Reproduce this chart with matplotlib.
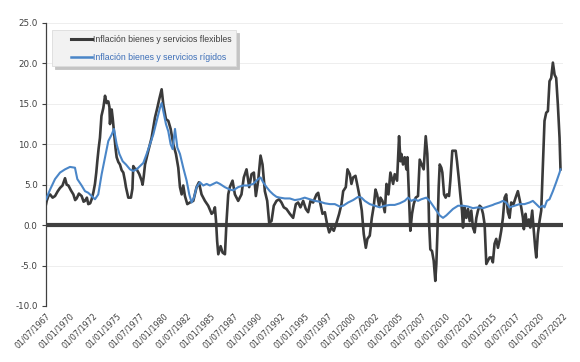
import numpy as np
import pandas as pd
import matplotlib
matplotlib.use("Agg")
import matplotlib.pyplot as plt
from matplotlib.legend_handler import HandlerLine2D

# Series (decimal year, % annual change)
flex_t = [
    1967.50, 1967.57, 1967.75, 1967.93, 1968.20, 1968.46, 1968.75, 1968.99, 1969.25, 1969.52,
    1969.70, 1969.88, 1970.15, 1970.41, 1970.60, 1970.76, 1971.00, 1971.29, 1971.50, 1971.65,
    1971.85, 1972.00, 1972.20, 1972.36, 1972.55, 1972.71, 1972.85, 1972.96, 1973.10, 1973.24,
    1973.40, 1973.60, 1973.78, 1973.95, 1974.13, 1974.25, 1974.31, 1974.40, 1974.49, 1974.60,
    1974.73, 1974.90, 1975.02, 1975.20, 1975.37, 1975.55, 1975.73, 1975.90, 1976.01, 1976.26,
    1976.54, 1976.70, 1976.79, 1976.95, 1977.15, 1977.43, 1977.68, 1977.78, 1977.90, 1978.04,
    1978.39, 1978.74, 1979.10, 1979.35, 1979.56, 1979.81, 1979.99, 1980.27, 1980.52, 1980.77,
    1981.05, 1981.33, 1981.58, 1981.76, 1981.94, 1982.11, 1982.29, 1982.54, 1982.82, 1983.18,
    1983.53, 1983.78, 1984.06, 1984.42, 1984.77, 1985.13, 1985.31, 1985.48, 1985.60, 1985.72,
    1985.84, 1986.09, 1986.30, 1986.55, 1986.72, 1986.90, 1987.07, 1987.36, 1987.61, 1987.96,
    1988.31, 1988.56, 1988.85, 1989.13, 1989.38, 1989.63, 1989.84, 1990.09, 1990.34, 1990.55,
    1990.80, 1991.05, 1991.26, 1991.51, 1991.75, 1992.04, 1992.32, 1992.57, 1992.82, 1993.10,
    1993.46, 1993.81, 1994.10, 1994.34, 1994.59, 1994.88, 1995.16, 1995.41, 1995.66, 1995.94,
    1996.30, 1996.48, 1996.65, 1996.94, 1997.19, 1997.43, 1997.65, 1997.89, 1998.14, 1998.43,
    1998.71, 1998.96, 1999.14, 1999.42, 1999.60, 1999.85, 2000.02, 2000.20, 2000.45, 2000.66,
    2000.91, 2001.12, 2001.33, 2001.55, 2001.72, 2001.97, 2002.19, 2002.40, 2002.58, 2002.75,
    2002.97, 2003.11, 2003.32, 2003.57, 2003.75, 2003.96, 2004.17, 2004.46, 2004.63, 2004.88,
    2005.09, 2005.24, 2005.34, 2005.51, 2005.69, 2005.87, 2005.98, 2006.15, 2006.29, 2006.47,
    2006.65, 2006.86, 2007.11, 2007.29, 2007.50, 2007.71, 2007.93, 2008.10, 2008.17, 2008.28,
    2008.42, 2008.60, 2008.78, 2008.95, 2009.06, 2009.17, 2009.31, 2009.42, 2009.59, 2009.70,
    2009.88, 2010.05, 2010.20, 2010.41, 2010.55, 2010.76, 2010.94, 2011.12, 2011.26, 2011.44,
    2011.61, 2011.79, 2011.90, 2012.07, 2012.25, 2012.43, 2012.61, 2012.78, 2012.96, 2013.14,
    2013.32, 2013.49, 2013.67, 2013.85, 2014.03, 2014.20, 2014.38, 2014.56, 2014.73, 2014.91,
    2015.08, 2015.26, 2015.44, 2015.62, 2015.79, 2015.97, 2016.15, 2016.33, 2016.50, 2016.68,
    2016.86, 2017.03, 2017.28, 2017.50, 2017.74, 2017.92, 2018.10, 2018.28, 2018.38, 2018.56,
    2018.70, 2018.91, 2019.06, 2019.27, 2019.41, 2019.59, 2019.70, 2019.87, 2020.05, 2020.23,
    2020.40, 2020.58, 2020.76, 2020.94, 2021.11, 2021.29, 2021.47, 2021.65, 2021.82, 2022.00,
    2022.18, 2022.28,
]
flex_v = [
    2.6, 3.0, 3.6, 3.8, 3.4, 3.6, 4.2, 4.6, 4.9, 5.8,
    5.0, 4.9, 4.3, 3.8, 3.1, 3.3, 3.9, 3.6, 2.9, 3.0,
    3.4, 2.6, 2.7, 3.2, 4.1, 5.1, 6.5, 7.9, 9.5, 10.8,
    13.5, 14.5, 16.0, 15.1, 15.3, 14.6, 12.5, 14.0, 14.3, 13.2,
    11.6, 9.5, 8.4, 7.8, 7.5, 6.8, 6.5, 5.5, 4.7, 3.4,
    3.4, 4.5, 7.3, 7.0, 6.9, 6.3, 5.5, 5.0, 6.0, 7.5,
    9.2, 10.8, 13.3, 14.5, 15.6, 16.8, 14.9, 13.1, 12.9, 11.9,
    10.0, 8.8, 7.1, 4.7, 3.8, 4.9, 3.6, 2.6, 2.8, 3.0,
    4.7, 5.3, 3.8, 3.0, 2.4, 1.4, 1.6, 2.2, 0.5, -2.0,
    -3.6, -2.6, -3.4, -3.6, 0.5, 3.8, 4.7, 5.5, 3.8, 3.0,
    3.8, 5.9, 6.9, 4.7, 6.3, 6.5, 3.6, 5.5, 8.6, 7.5,
    4.2, 3.0, 0.3, 0.5, 2.4, 3.0, 3.2, 2.8, 2.2, 2.0,
    1.4, 0.9, 2.6, 2.8, 2.2, 3.0, 2.0, 1.6, 3.0, 2.8,
    3.8, 4.0, 3.0, 1.4, 1.6, 0.1, -0.9, -0.3, -0.7, 0.3,
    1.4, 2.6, 4.2, 4.7, 6.9, 6.3, 5.1, 5.9, 6.1, 4.9,
    3.4, 1.8, -1.1, -2.8, -1.7, -1.3, 0.9, 2.4, 4.4, 3.8,
    2.4, 3.4, 3.0, 1.6, 5.1, 3.8, 6.5, 5.1, 6.3, 5.5,
    11.0, 7.9, 8.8, 7.5, 8.4, 6.9, 8.4, 3.4, -0.7, 1.4,
    2.6, 3.4, 3.6, 8.1, 7.5, 6.9, 11.0, 8.8, 6.5, 0.5,
    -3.0, -3.2, -4.4, -6.9, -4.8, -1.1, 4.7, 7.5, 7.1, 6.5,
    3.8, 3.4, 3.8, 3.6, 5.5, 9.2, 9.2, 9.2, 7.9, 5.9,
    3.8, 1.8, -0.3, 2.2, 0.9, 2.0, 0.5, 1.8, -0.3, -0.9,
    0.9, 1.8, 2.4, 2.2, 1.4, 0.1, -4.8, -4.4, -4.0, -4.0,
    -4.6, -2.3, -1.7, -2.8, -1.9, -0.7, 0.9, 3.4, 3.8, 1.6,
    0.9, 2.8, 2.6, 3.4, 4.2, 3.2, 2.2, 0.9, -0.5, 1.4,
    0.1, 0.7, -0.3, 1.8, -0.3, -2.8, -4.0, -1.1, 0.5, 1.8,
    7.1, 12.9, 13.9, 14.1, 17.8, 18.2, 20.1, 18.6, 18.2, 14.9,
    10.8, 6.9,
]

rig_t = [
    1967.50, 1967.57, 1967.93, 1968.46, 1968.99, 1969.52, 1970.05, 1970.58, 1970.83, 1971.29,
    1971.65, 1972.00, 1972.36, 1972.71, 1973.06, 1973.42, 1973.78, 1974.13, 1974.49, 1974.73,
    1975.02, 1975.31, 1975.66, 1976.01, 1976.44, 1976.79, 1977.15, 1977.50, 1977.86, 1978.21,
    1978.57, 1978.92, 1979.28, 1979.63, 1979.81, 1979.99, 1980.27, 1980.52, 1980.77, 1980.98,
    1981.23, 1981.48, 1981.76, 1982.11, 1982.47, 1982.75, 1983.00, 1983.25, 1983.53, 1983.89,
    1984.24, 1984.60, 1984.95, 1985.31, 1985.66, 1986.01, 1986.54, 1987.07, 1987.43, 1987.96,
    1988.49, 1989.02, 1989.56, 1990.09, 1990.34, 1990.62, 1990.98, 1991.33, 1991.69, 1992.04,
    1992.39, 1992.93, 1993.46, 1993.99, 1994.52, 1995.05, 1995.59, 1996.12, 1996.65, 1997.19,
    1997.72, 1998.25, 1998.78, 1999.14, 1999.67, 2000.20, 2000.73, 2001.09, 2001.44, 2001.97,
    2002.51, 2003.04, 2003.57, 2004.10, 2004.63, 2005.16, 2005.69, 2006.05, 2006.40, 2006.76,
    2007.11, 2007.46, 2007.99, 2008.35, 2008.71, 2009.06, 2009.42, 2009.77, 2010.12, 2010.48,
    2010.83, 2011.37, 2011.90, 2012.43, 2012.96, 2013.49, 2014.03, 2014.56, 2015.08, 2015.26,
    2015.79, 2016.15, 2016.50, 2016.86, 2017.39, 2017.92, 2018.45, 2018.99, 2019.34, 2019.70,
    2020.05, 2020.40, 2020.58, 2020.83, 2021.11, 2021.47, 2021.82, 2022.18, 2022.28,
]
rig_v = [
    3.2, 3.4, 4.4, 5.7, 6.5, 6.9, 7.2, 7.1, 5.7, 4.9,
    4.2, 4.0, 3.6, 3.2, 3.8, 6.3, 8.4, 10.4, 11.2, 11.9,
    10.0, 8.8, 7.9, 7.5, 6.9, 6.7, 6.9, 7.3, 7.7, 8.8,
    10.0, 11.2, 12.9, 14.5, 15.1, 14.1, 12.5, 11.6, 10.0, 9.4,
    11.9, 9.6, 8.8, 7.1, 5.5, 3.8, 2.8, 3.4, 4.7, 5.3,
    4.9, 5.1, 4.9, 5.1, 5.3, 5.1, 4.7, 4.4, 4.3, 4.7,
    4.9, 4.9, 5.1, 5.7, 5.9, 5.3, 4.7, 4.2, 3.8, 3.5,
    3.4, 3.3, 3.3, 3.1, 3.2, 3.4, 3.2, 3.0, 2.9, 2.7,
    2.6, 2.6, 2.3, 2.4, 2.8, 3.1, 3.5, 3.4, 3.0, 2.6,
    2.4, 2.2, 2.4, 2.5, 2.5, 2.7, 3.0, 3.4, 3.0, 3.2,
    3.0, 3.2, 3.4, 3.0, 2.4, 1.8, 1.2, 0.9, 1.2, 1.6,
    2.0, 2.4, 2.4, 2.3, 2.1, 2.2, 2.1, 2.3, 2.5, 2.6,
    2.8, 3.0, 2.8, 2.2, 2.4, 2.6, 2.6, 2.8, 3.0, 2.6,
    2.2, 2.4, 2.2, 3.0, 3.2, 4.2, 5.3, 6.5, 6.9,
]

tick_labels = [
    "01/07/1967", "01/01/1970", "01/07/1972", "01/01/1975", "01/07/1977", "01/01/1980",
    "01/07/1982", "01/01/1985", "01/07/1987", "01/01/1990", "01/07/1992", "01/01/1995",
    "01/07/1997", "01/01/2000", "01/07/2002", "01/01/2005", "01/07/2007", "01/01/2010",
    "01/07/2012", "01/01/2015", "01/07/2017", "01/01/2020", "01/07/2022",
]
y_ticks = [-10, -5, 0, 5, 10, 15, 20, 25]

label_flex = "Inflación bienes y servicios flexibles"
label_rig = "Inflación bienes y servicios rígidos"


def to_dates(years):
    years = np.asarray(years)
    whole = np.floor(years).astype(int)
    base = pd.to_datetime([f"{y}-01-01" for y in whole])
    return base + pd.to_timedelta((years - whole) * 365.25, unit="D")


dark = "#3a3a3a"
blue = "#4a86c8"

fig = plt.figure(figsize=(5.8, 3.62), dpi=100)
ax = fig.add_axes([0.0793, 0.1547, 0.8914, 0.7818])

ax.plot(to_dates(flex_t), flex_v, color=dark, lw=1.9, label=label_flex, zorder=3)
ax.plot(to_dates(rig_t), rig_v, color=blue, lw=1.5, label=label_rig, zorder=4)
ax.axhline(0, color="#404040", lw=3, zorder=2)

ticks = pd.to_datetime(tick_labels, format="%d/%m/%Y")
ax.set_xticks(ticks)
ax.set_xticklabels(tick_labels, rotation=45, ha="right", rotation_mode="anchor",
                   fontsize=5.8, color="#404040")
ax.tick_params(axis="x", length=0, pad=4)
ax.set_xlim(ticks[0], pd.Timestamp("2022-07-20"))

ax.set_ylim(-10, 25)
ax.set_yticks(y_ticks)
ax.set_yticklabels([f"{v:.1f}" for v in y_ticks], fontsize=6.3, color="#404040")
ax.tick_params(axis="y", length=3, width=0.8, color="#404040", pad=3)

ax.grid(axis="y", color="#ebebeb", lw=0.6)
ax.set_axisbelow(True)
for side in ["top", "right", "bottom"]:
    ax.spines[side].set_visible(False)
ax.spines["left"].set_color("#404040")
ax.spines["left"].set_linewidth(0.9)

# shift the legend handles right, as in the original legend box
pad_handler = HandlerLine2D(xpad=1.55)
leg = ax.legend(loc="upper left", bbox_to_anchor=(0.012, 0.975), borderaxespad=0,
                frameon=True, fancybox=False,
                shadow={"color": "#c4c4c4", "alpha": 1.0},
                handlelength=3.95, handletextpad=0.15, labelspacing=1.0,
                borderpad=0.55, prop={"family": "Liberation Sans", "size": 6.3},
                handler_map={plt.Line2D: pad_handler})
leg.get_frame().set_facecolor("#f2f2f2")
leg.get_frame().set_edgecolor("#dcdcdc")
leg.get_frame().set_linewidth(0.6)
texts = leg.get_texts()
texts[0].set_color("#404040")
texts[1].set_color("#3d6fb8")
leg.get_lines()[0].set_linewidth(2.2)
leg.get_lines()[1].set_linewidth(1.8)

fig.savefig("out.png", dpi=100)
